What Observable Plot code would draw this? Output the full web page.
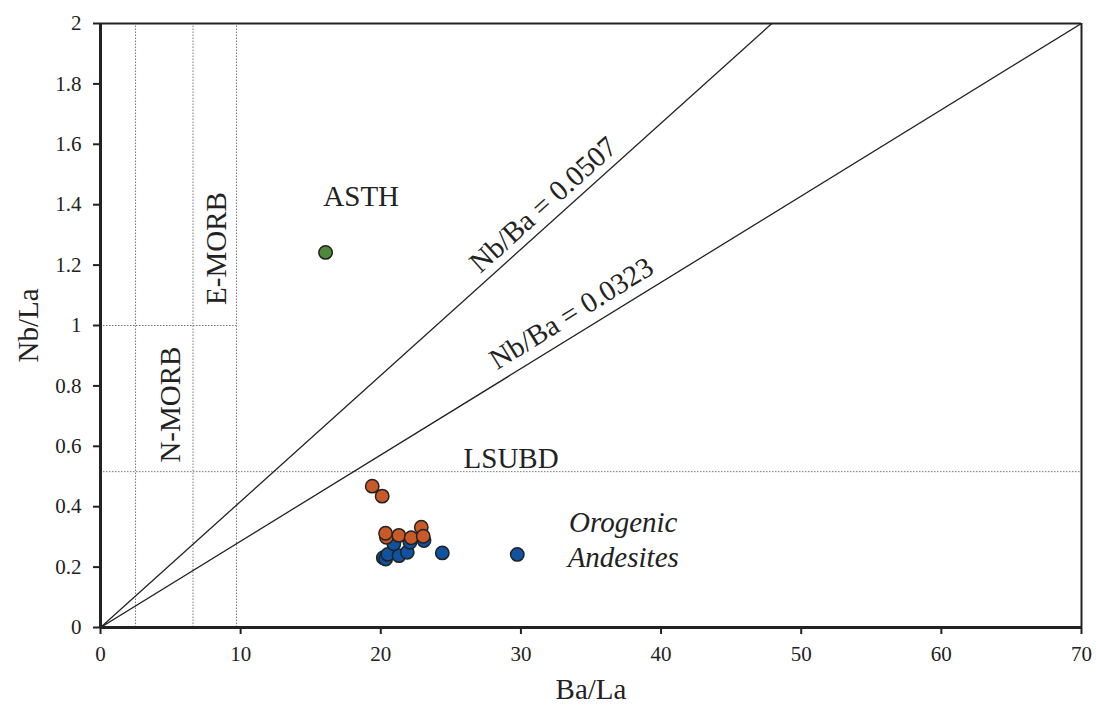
<!DOCTYPE html>
<html><head><meta charset="utf-8">
<script src="https://cdn.jsdelivr.net/npm/d3@7"></script>
<script src="https://cdn.jsdelivr.net/npm/@observablehq/plot@0.6"></script>
<style>
body{margin:0;background:#fff;}
svg, svg text{font-family:'Liberation Serif','Times New Roman',serif !important;}
</style></head>
<body><div id="chart"></div>
<script>
const xTicks = [0,10,20,30,40,50,60,70];
const yTicks = [0,0.2,0.4,0.6,0.8,1,1.2,1.4,1.6,1.8,2];
// ASTH
const asthX = [16.06];
const asthY = [1.242];
// Orogenic andesites (orange)
const orangeX = [19.39,20.1,22.89,20.4,20.34,21.29,22.17,23.03];
const orangeY = [0.468,0.435,0.332,0.299,0.312,0.305,0.297,0.302];
// Orogenic andesites (blue)
const blueX = [24.39,29.74,20.18,20.35,20.5,21.3,21.89,20.93,22.08,23.08];
const blueY = [0.247,0.242,0.231,0.227,0.242,0.238,0.249,0.277,0.282,0.288];
// Reference lines: Ba/La where the line reaches Nb/La = 2
const diagEndX = [47.9,70];
// dotted boundaries
const vLinesX = [2.5,6.6,9.7];
const hLines = [{y:1.0,x1:0,x2:9.7},{y:0.516,x1:0,x2:70}];
// annotations
const labelText = ["ASTH","LSUBD","E-MORB","N-MORB","Nb/Ba = 0.0507","Nb/Ba = 0.0323"];
const labelX = [18.6,29.3,8.28,5.0,31.6,33.6];
const labelY = [1.427,0.56,1.255,0.738,1.40,1.04];
const labelRotate = [0,0,-90,-90,-42,-31.7];
const italicText = ["Orogenic","Andesites"];
const italicX = [37.3,37.3];
const italicY = [0.348,0.232];

const pts = (xs,ys)=>xs.map((x,i)=>({x,y:ys[i]}));
const diag = diagEndX.flatMap((ex,k)=>[{k,x:0,y:0},{k,x:ex,y:2}]);
const vl = vLinesX.map(x=>({x,y1:0,y2:2}));
const labels = labelText.map((t,i)=>({t,x:labelX[i],y:labelY[i],r:labelRotate[i]}));
const ital = italicText.map((t,i)=>({t,x:italicX[i],y:italicY[i]}));
const dot = {r:6.7, stroke:"#222", strokeWidth:1.5};
const FF = "'Liberation Serif', 'Times New Roman', serif";

const chart = Plot.plot({
  width:1096, height:711,
  marginLeft:100, marginRight:15, marginTop:23, marginBottom:84,
  style:{fontFamily:FF, fontSize:"21px", color:"#222", background:"#fff"},
  x:{domain:[0,70], ticks:xTicks, label:null},
  y:{domain:[0,2], ticks:yTicks, label:null},
  marks:[
    Plot.axisX({ticks:xTicks, tickSize:7, tickPadding:12, strokeWidth:2, fontSize:21, fontFamily:FF, label:null}),
    Plot.axisY({ticks:yTicks, tickSize:7, tickPadding:12, strokeWidth:2, fontSize:21, fontFamily:FF, label:null, tickFormat:d=>String(+d.toFixed(1))}),
    Plot.ruleX(vl,{x:"x",y1:"y1",y2:"y2",stroke:"#777",strokeWidth:1,strokeDasharray:"1.5,1.5"}),
    Plot.ruleY(hLines,{y:"y",x1:"x1",x2:"x2",stroke:"#777",strokeWidth:1,strokeDasharray:"1.5,1.5"}),
    Plot.line(diag,{x:"x",y:"y",z:"k",stroke:"#222",strokeWidth:1.3,clip:true}),
    Plot.ruleY([2],{stroke:"#222",strokeWidth:2}),
    Plot.ruleX([70],{stroke:"#222",strokeWidth:2}),
    Plot.ruleX([0],{stroke:"#222",strokeWidth:3}),
    Plot.ruleY([0],{stroke:"#222",strokeWidth:3}),
    Plot.dot(pts(asthX,asthY),{x:"x",y:"y",fill:"#4f8a3a",...dot}),
    Plot.dot(pts(blueX,blueY),{x:"x",y:"y",fill:"#0f52a0",...dot}),
    Plot.dot(pts(orangeX,orangeY),{x:"x",y:"y",fill:"#c95a28",...dot}),
    Plot.text(labels,{x:"x",y:"y",text:"t",rotate:"r",fontSize:29,fontFamily:FF,fill:"#222"}),
    Plot.text(ital,{x:"x",y:"y",text:"t",fontSize:29,fontStyle:"italic",fontFamily:FF,fill:"#222"}),
    Plot.text(["Ba/La"],{frameAnchor:"bottom",textAnchor:"middle",dy:71,fontSize:29,fontFamily:FF,fill:"#222"}),
    Plot.text(["Nb/La"],{frameAnchor:"left",textAnchor:"middle",dx:-72,rotate:-90,fontSize:29,fontFamily:FF,fill:"#222"})
  ]
});
document.getElementById("chart").appendChild(chart);
</script>
</body></html>
